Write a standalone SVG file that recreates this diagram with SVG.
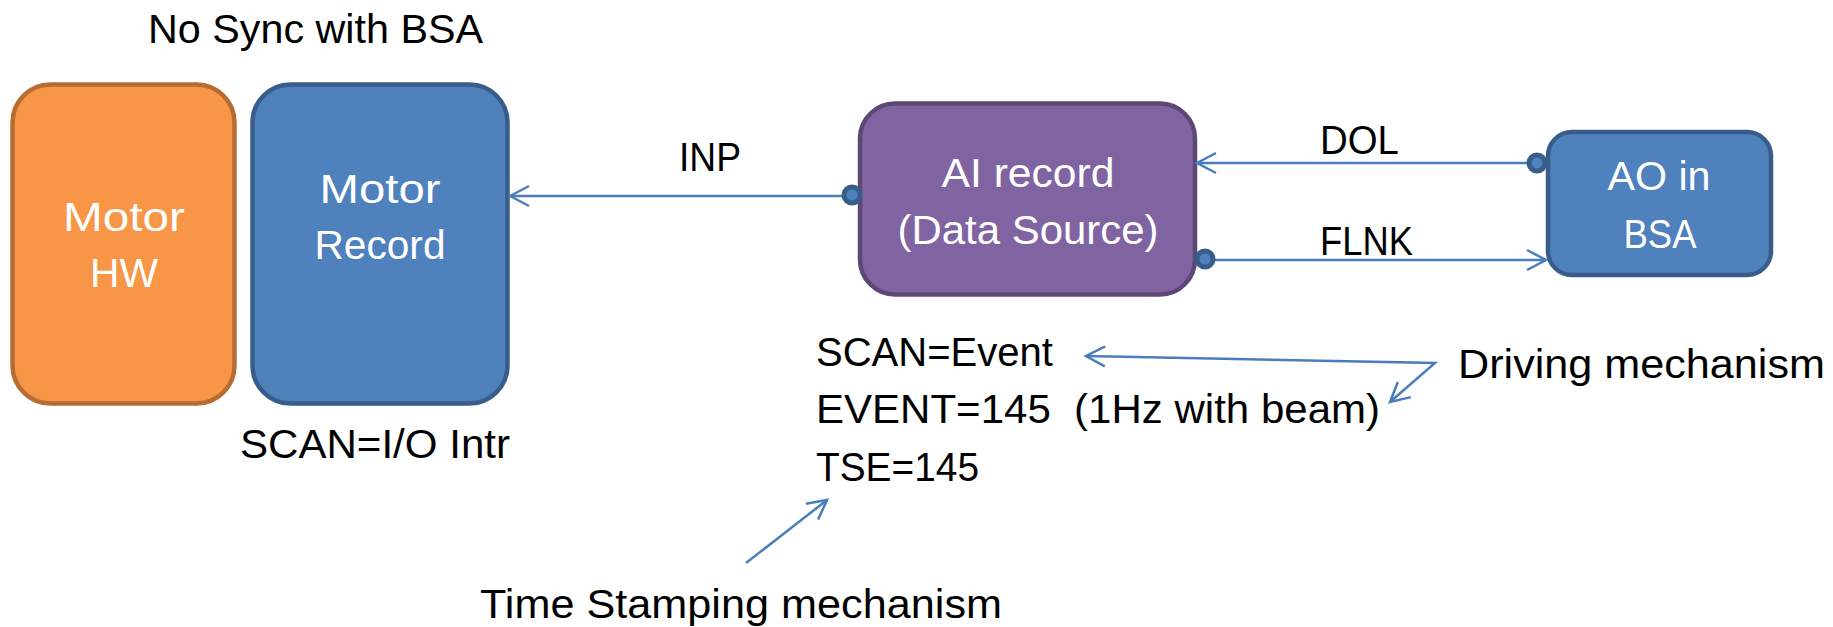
<svg xmlns="http://www.w3.org/2000/svg" width="1833" height="627" viewBox="0 0 1833 627">
  <style>
    text { font-family: "Liberation Sans", Arial, sans-serif; font-size: 41px; fill: #000; }
    .in { fill: #fff; text-anchor: middle; }
    .box { stroke-width: 4.5; }
    .orange { fill: #F79646; stroke: #B66D31; }
    .blue { fill: #4F81BD; stroke: #385D8A; }
    .purple { fill: #8064A2; stroke: #5C4776; }
    .link { fill: none; stroke: #4A7EBB; stroke-width: 2.5; }
    .dot { fill: #4F81BD; stroke: #385D8A; stroke-width: 5; }
  </style>
  <defs>
    <marker id="open" markerUnits="userSpaceOnUse" markerWidth="30" markerHeight="30" viewBox="-25 -15 30 30" refX="0" refY="0" orient="auto-start-reverse">
      <path d="M -19 -10 L 0 0 L -19 10" fill="none" stroke="#4A7EBB" stroke-width="2.5"/>
    </marker>
  </defs>

  <text x="148" y="43" textLength="335" lengthAdjust="spacingAndGlyphs">No Sync with BSA</text>

  <g id="motor-hw">
    <rect class="box orange" x="12.5" y="84.5" width="222" height="319" rx="38" ry="38"/>
    <text class="in" x="124" y="231" textLength="122" lengthAdjust="spacingAndGlyphs">Motor</text>
    <text class="in" x="124" y="287" textLength="68" lengthAdjust="spacingAndGlyphs">HW</text>
  </g>

  <g id="motor-record">
    <rect class="box blue" x="252.5" y="84.5" width="255" height="319" rx="38" ry="38"/>
    <text class="in" x="380" y="203" textLength="121" lengthAdjust="spacingAndGlyphs">Motor</text>
    <text class="in" x="380" y="259" textLength="131" lengthAdjust="spacingAndGlyphs">Record</text>
    <text x="240" y="458" textLength="270" lengthAdjust="spacingAndGlyphs">SCAN=I/O Intr</text>
  </g>

  <g id="ai-record">
    <rect class="box purple" x="860" y="103.5" width="335" height="191" rx="35" ry="35"/>
    <text class="in" x="1028" y="187" textLength="173" lengthAdjust="spacingAndGlyphs">AI record</text>
    <text class="in" x="1028" y="244" textLength="261" lengthAdjust="spacingAndGlyphs">(Data Source)</text>
    <text x="816" y="366" textLength="237" lengthAdjust="spacingAndGlyphs">SCAN=Event</text>
    <text x="816" y="423" textLength="564" lengthAdjust="spacingAndGlyphs" xml:space="preserve">EVENT=145  (1Hz with beam)</text>
    <text x="816" y="481" textLength="163" lengthAdjust="spacingAndGlyphs">TSE=145</text>
  </g>

  <g id="ao-bsa">
    <rect class="box blue" x="1548" y="132" width="223" height="143" rx="24" ry="24"/>
    <text class="in" x="1659" y="190" textLength="103" lengthAdjust="spacingAndGlyphs">AO in</text>
    <text class="in" x="1660" y="248" textLength="73" lengthAdjust="spacingAndGlyphs">BSA</text>
  </g>

  <g id="driving-note">
    <text x="1458" y="378" textLength="367" lengthAdjust="spacingAndGlyphs">Driving mechanism</text>
  </g>

  <g id="timestamp-note">
    <text x="480" y="618" textLength="522" lengthAdjust="spacingAndGlyphs">Time Stamping mechanism</text>
  </g>

  <g id="connectors">
    <!-- INP: AI record -> Motor Record -->
    <line class="link" x1="852" y1="196" x2="510" y2="196" marker-end="url(#open)"/>
    <circle class="dot" cx="852" cy="195" r="8"/>
    <text x="679" y="171" textLength="62" lengthAdjust="spacingAndGlyphs">INP</text>

    <!-- DOL: AO -> AI record -->
    <line class="link" x1="1537" y1="163" x2="1197" y2="163" marker-end="url(#open)"/>
    <circle class="dot" cx="1537" cy="163" r="8"/>
    <text x="1320" y="154" textLength="79" lengthAdjust="spacingAndGlyphs">DOL</text>

    <!-- FLNK: AI record -> AO -->
    <line class="link" x1="1205" y1="260" x2="1546" y2="260" marker-end="url(#open)"/>
    <circle class="dot" cx="1205" cy="259" r="8"/>
    <text x="1320" y="255" textLength="93" lengthAdjust="spacingAndGlyphs">FLNK</text>

    <!-- driving mechanism pointers -->
    <path class="link" d="M 1086 356 L 1435 363 L 1390 402" marker-start="url(#open)" marker-end="url(#open)"/>

    <!-- time stamping pointer -->
    <line class="link" x1="746" y1="563" x2="827" y2="500" marker-end="url(#open)"/>
  </g>
</svg>
